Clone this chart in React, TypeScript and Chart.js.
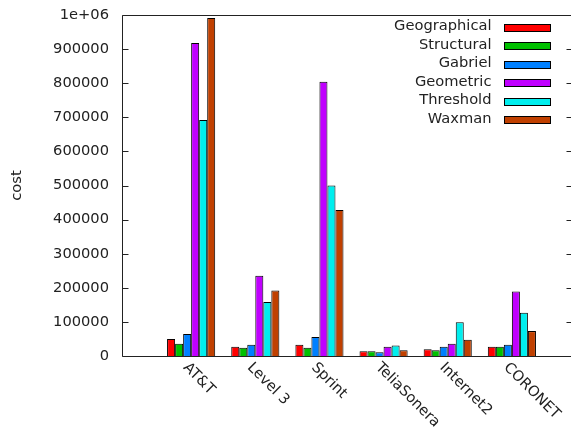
import React, { useEffect, useRef } from 'react';
import { Chart, registerables } from 'chart.js';

Chart.register(...registerables);

const categories = ['AT&T', 'Level 3', 'Sprint', 'TeliaSonera', 'Internet2', 'CORONET'];

const geographical = [50000, 27000, 33000, 14000, 20000, 27000];
const structural = [36000, 24500, 24500, 14000, 17000, 27000];
const gabriel = [64500, 33000, 56000, 11000, 27000, 33000];
const geometric = [918000, 235000, 804000, 27000, 36000, 189000];
const threshold = [692000, 158000, 500000, 31000, 99000, 127000];
const waxman = [991000, 192000, 428000, 17000, 48000, 73000];

const seriesNames = ['Geographical', 'Structural', 'Gabriel', 'Geometric', 'Threshold', 'Waxman'];
const seriesValues = [geographical, structural, gabriel, geometric, threshold, waxman];
const seriesColors = ['#ff0000', '#00c000', '#0080ff', '#c000ff', '#00eeee', '#c04000'];

const yTickValues = [0, 100000, 200000, 300000, 400000, 500000, 600000, 700000, 800000, 900000, 1000000];
const yTickLabels = ['0', '100000', '200000', '300000', '400000', '500000', '600000', '700000', '800000', '900000', '1e+06'];

const FONT_FAMILY = '"DejaVu Sans", sans-serif';
const FONT_SIZE = 14.67;
const TEXT_COLOR = '#222';
const LINE_COLOR = '#222';

const decorPlugin = {
  id: 'gnuplotDecor',
  afterDraw(chart: any) {
    const { ctx, chartArea } = chart;
    const { left, right, top, bottom } = chartArea;
    const yScale = chart.scales.y;
    const xScale = chart.scales.x;
    ctx.save();
    // frame
    ctx.strokeStyle = LINE_COLOR;
    ctx.lineWidth = 1;
    ctx.beginPath();
    ctx.moveTo(left - 0.5, top + 0.5);
    ctx.lineTo(right + 0.5, top + 0.5);
    ctx.lineTo(right + 0.5, bottom + 0.5);
    ctx.lineTo(left - 0.5, bottom + 0.5);
    ctx.closePath();
    ctx.stroke();
    // inward y ticks (both sides)
    ctx.beginPath();
    yTickValues.forEach((v) => {
      const py = Math.round(yScale.getPixelForValue(v)) + 0.5;
      ctx.moveTo(left - 0.5, py);
      ctx.lineTo(left + 5.5, py);
      ctx.moveTo(right - 5.5, py);
      ctx.lineTo(right + 0.5, py);
    });
    ctx.stroke();

    // rotated x labels
    ctx.fillStyle = TEXT_COLOR;
    ctx.font = `${FONT_SIZE}px ${FONT_FAMILY}`;
    ctx.textAlign = 'left';
    ctx.textBaseline = 'alphabetic';
    categories.forEach((name, i) => {
      const px = xScale.getPixelForValue(i);
      ctx.save();
      ctx.translate(px - 8.5, bottom + 12);
      ctx.rotate(Math.PI / 4);
      ctx.fillText(name, 0, 0);
      ctx.restore();
    });

    // legend (text left of sample box)
    const rowStart = 27.8;
    const rowStep = 18.44;
    chart.data.datasets.forEach((ds: any, k: number) => {
      const cy = rowStart + rowStep * k;
      ctx.textAlign = 'right';
      ctx.fillStyle = TEXT_COLOR;
      ctx.fillText(ds.label, 491.5, cy + 2.5);
      ctx.fillStyle = ds.backgroundColor;
      ctx.fillRect(504, Math.round(cy - 4), 47, 8);
      ctx.strokeStyle = '#000';
      ctx.strokeRect(504.5, Math.round(cy - 4) + 0.5, 46, 7);
    });
    ctx.restore();
  },
};

export default function App() {
  const canvasRef = useRef<HTMLCanvasElement | null>(null);

  useEffect(() => {
    const canvas = canvasRef.current;
    if (!canvas) return;
    const chart = new Chart(canvas, {
      type: 'bar',
      data: {
        labels: categories.map((_, i) => i),
        datasets: seriesNames.map((name, k) => ({
          label: name,
          data: seriesValues[k],
          backgroundColor: seriesColors[k],
          borderColor: '#000',
          borderWidth: 1,
          categoryPercentage: 0.75,
          barPercentage: 1,
        })),
      },
      options: {
        responsive: false,
        animation: false,
        devicePixelRatio: 1,
        layout: { padding: { left: 0, top: 15, right: 8, bottom: 0 } },
        plugins: {
          legend: { display: false },
          tooltip: { enabled: false },
        },
        scales: {
          x: {
            type: 'linear',
            min: -1.0625,
            max: 5.9375,
            offset: false,
            grid: { display: false, drawTicks: false },
            border: { display: false },
            ticks: { display: false },
            afterBuildTicks: (s: any) => {
              s.ticks = categories.map((_, i) => ({ value: i }));
            },
            afterFit: (s: any) => {
              s.height = 73;
              s.paddingLeft = 0;
              s.paddingRight = 0;
            },
          },
          y: {
            min: 0,
            max: 1000000,
            grid: { display: false, drawTicks: false },
            border: { display: false },
            ticks: {
              stepSize: 100000,
              padding: 14,
              color: TEXT_COLOR,
              font: { family: FONT_FAMILY, size: FONT_SIZE },
              callback: (v: any) => {
                const i = yTickValues.indexOf(Number(v));
                return i >= 0 ? yTickLabels[i] : '';
              },
            },
            title: {
              display: true,
              text: 'cost',
              color: TEXT_COLOR,
              font: { family: FONT_FAMILY, size: FONT_SIZE },
              padding: { top: 8, bottom: 0 },
            },
            afterFit: (s: any) => {
              s.width = 123;
              s.paddingTop = 0;
              s.paddingBottom = 0;
            },
          },
        },
      } as any,
      plugins: [decorPlugin],
    });
    return () => chart.destroy();
  }, []);

  return (
    <div
      style={{
        position: 'fixed',
        left: 0,
        top: 0,
        width: 571,
        height: 429,
        overflow: 'hidden',
        background: '#fff',
      }}
    >
      <canvas ref={canvasRef} width={580} height={429} style={{ display: 'block' }} />
    </div>
  );
}
